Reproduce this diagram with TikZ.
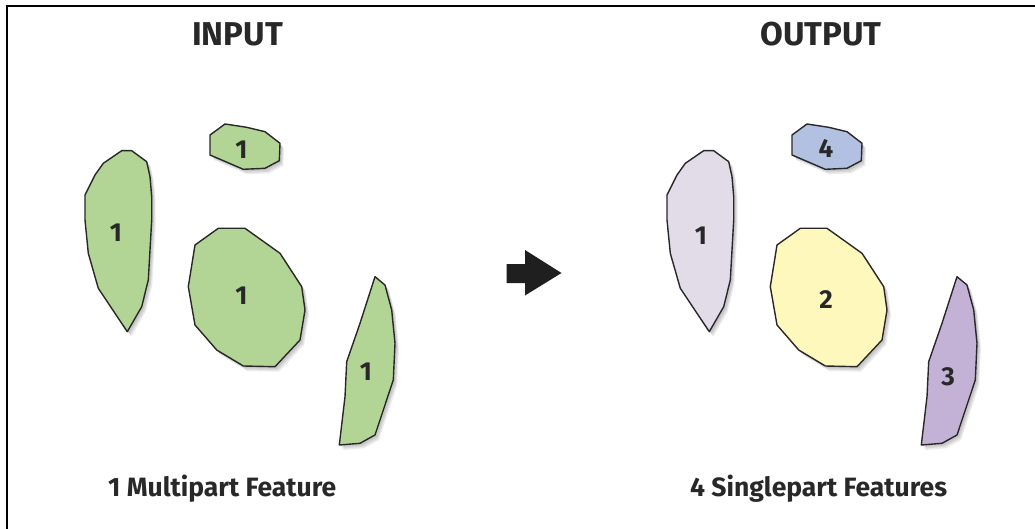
\documentclass[tikz,border=0pt]{standalone}
\usepackage{fontspec}
\setmainfont{Fira Sans}
\definecolor{txtgray}{RGB}{40,40,40}
\definecolor{edgegray}{RGB}{40,40,40}
\definecolor{fgreen}{RGB}{178,212,148}
\definecolor{flav}{RGB}{226,220,232}
\definecolor{fyellow}{RGB}{255,248,188}
\definecolor{fpurple}{RGB}{196,178,214}
\definecolor{fblue}{RGB}{178,192,226}
\def\shpLeaf{(121.7,150.7) -- (131.7,150.7) -- (146.7,161.7) -- (150,176.7) -- (151.7,196.7) -- (151.7,220) -- (150,250) -- (148.3,280) -- (141.7,306.7) -- (127.3,331.7) -- (98.3,288.3) -- (88.3,253.3) -- (85,220) -- (85,195) -- (95,175) -- (103.3,163.3) -- cycle}
\def\shpSmall{(210,135) -- (225,124) -- (246.7,127.3) -- (265,131.7) -- (280,143.3) -- (279.3,160.7) -- (265,168.3) -- (243.3,169.3) -- (210,155) -- cycle}
\def\shpBig{(195,245) -- (218.3,228.3) -- (245,228.3) -- (280,253.3) -- (301.7,286.7) -- (305,310) -- (300,340) -- (275,366.7) -- (243.3,366) -- (216.7,350) -- (195,325) -- (188.3,286.7) -- cycle}
\def\shpSliver{(375,276.7) -- (385,285) -- (391.7,310) -- (395,343.3) -- (393.3,380) -- (375,435) -- (360,443.3) -- (339.3,445) -- (345,396.7) -- (346.7,361.7) -- (360,323.3) -- cycle}
\tikzset{
  polyedge/.style={draw=edgegray, line width=1.4pt, line join=round},
  shade1/.style={fill=black, fill opacity=0.08},
  title/.style={text=txtgray, font=\fontsize{33}{33}\selectfont\bfseries, inner sep=0pt},
  caption/.style={text=txtgray, font=\fontsize{26.5}{26.5}\selectfont\bfseries, inner sep=0pt, anchor=base west},
  digit/.style={text=txtgray, font=\fontsize{26}{26}\selectfont\bfseries, inner sep=0pt},
}
\newcommand{\polyshape}[3]{%
  \begin{scope}[shift={(#1,0)}]
    \foreach \dx/\dy in {2/2,3/3.5,4/5}{\fill[shade1,shift={(\dx,\dy)}] #2;}
    \fill[#3] #2;
    \draw[polyedge] #2;
  \end{scope}}
\begin{document}
\begin{tikzpicture}[x=1pt,y=-1pt]
\useasboundingbox (0,0) rectangle (1035,529);
\fill[white] (0,0) rectangle (1035,529);
\draw[black, line width=1.5pt] (7,529) -- (7,6) -- (1035,6);
% input
\polyshape{0}{\shpLeaf}{fgreen}
\polyshape{0}{\shpSmall}{fgreen}
\polyshape{0}{\shpBig}{fgreen}
\polyshape{0}{\shpSliver}{fgreen}
% output
\polyshape{582}{\shpLeaf}{flav}
\polyshape{582}{\shpSmall}{fblue}
\polyshape{582}{\shpBig}{fyellow}
\polyshape{582}{\shpSliver}{fpurple}
% labels
\node[digit] (i1) at (116,233) {1};
\node[digit] (i2) at (241.5,150) {1};
\node[digit] (i3) at (241.5,296) {1};
\node[digit] (i4) at (366,372) {1};
\node[digit] (o1) at (701,236) {1};
\node[digit] (o4) at (826,148) {4};
\node[digit] (o2) at (826,300) {2};
\node[digit] (o3) at (948,377) {3};
% titles
\node[title, anchor=base] (tin) at (237.5,46) {INPUT};
\node[title, anchor=base] (tout) at (821,46) {OUTPUT};
\node[caption] (cin) at (108,496) {1 Multipart Feature};
\node[caption] (cout) at (690,496) {4 Singlepart Features};
% arrow
\fill[black!88] (506.5,264) -- (525,264) -- (525,250) -- (561.5,273) -- (525,295.5) -- (525,283) -- (506.5,283) -- cycle;
\end{tikzpicture}
\end{document}
